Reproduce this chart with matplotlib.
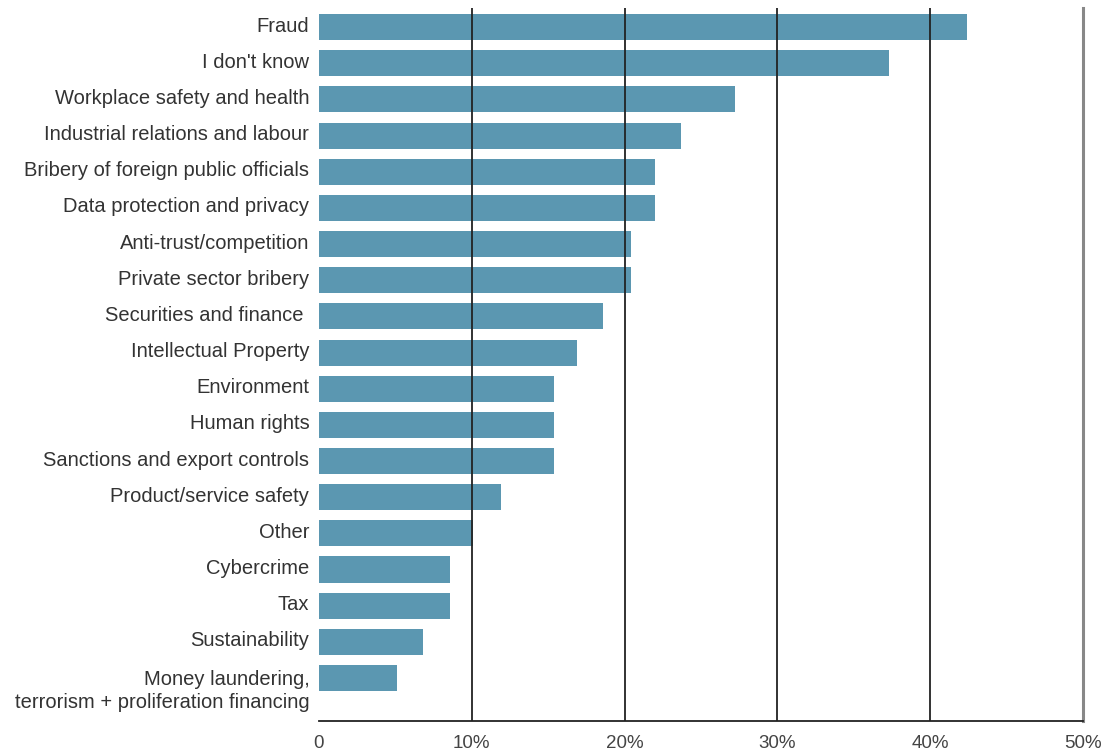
import matplotlib
matplotlib.use("Agg")
import matplotlib.pyplot as plt
import matplotlib.transforms as mtransforms

categories = [
    "Fraud", "I don't know", "Workplace safety and health",
    "Industrial relations and labour", "Bribery of foreign public officials",
    "Data protection and privacy", "Anti-trust/competition",
    "Private sector bribery", "Securities and finance ",
    "Intellectual Property", "Environment", "Human rights",
    "Sanctions and export controls", "Product/service safety", "Other",
    "Cybercrime", "Tax", "Sustainability",
    "Money laundering,\nterrorism + proliferation financing",
]
values = [42.4, 37.3, 27.2, 23.7, 22.0, 22.0, 20.4, 20.4, 18.6, 16.9,
          15.4, 15.4, 15.4, 11.9, 10.1, 8.6, 8.6, 6.8, 5.1]
xticks = [0, 10, 20, 30, 40, 50]
xtick_labels = ["0", "10%", "20%", "30%", "40%", "50%"]

plt.rcParams['font.family'] = ['Liberation Sans', 'DejaVu Sans']
fig = plt.figure(figsize=(11.11, 7.53), dpi=100)
ax = fig.add_axes([319/1111, 1-721/753, (1083-319)/1111, (721-8)/753])

y = list(range(len(categories)))
ax.barh(y, values, height=0.72, color="#5b97b1", zorder=1)

for t in xticks[1:-1]:
    ax.axvline(t, color="#222222", lw=1.3, zorder=2)
ax.axvline(50, color="#888888", lw=2.2, zorder=2, clip_on=False)

ax.set_xlim(0, 50)
ax.set_ylim(19.19, -0.53)
ax.set_yticks(y)
ax.set_yticklabels(categories, fontsize=14.5, color="#333333", linespacing=1.3)
ax.set_xticks(xticks)
ax.set_xticklabels(xtick_labels, fontsize=13.5, color="#444444")
ax.tick_params(axis='both', length=0)
ax.tick_params(axis='y', pad=7)
ax.tick_params(axis='x', pad=10)
for s in ["top", "left", "right"]:
    ax.spines[s].set_visible(False)
ax.spines["bottom"].set_color("#222222")
ax.spines["bottom"].set_linewidth(1.3)

labels = ax.get_yticklabels()
for i, lab in enumerate(labels):
    dy = 3 if i < len(labels) - 1 else -9
    lab.set_transform(lab.get_transform() +
                      mtransforms.ScaledTranslation(0, dy / 100, fig.dpi_scale_trans))

fig.savefig("out.png", dpi=100)
